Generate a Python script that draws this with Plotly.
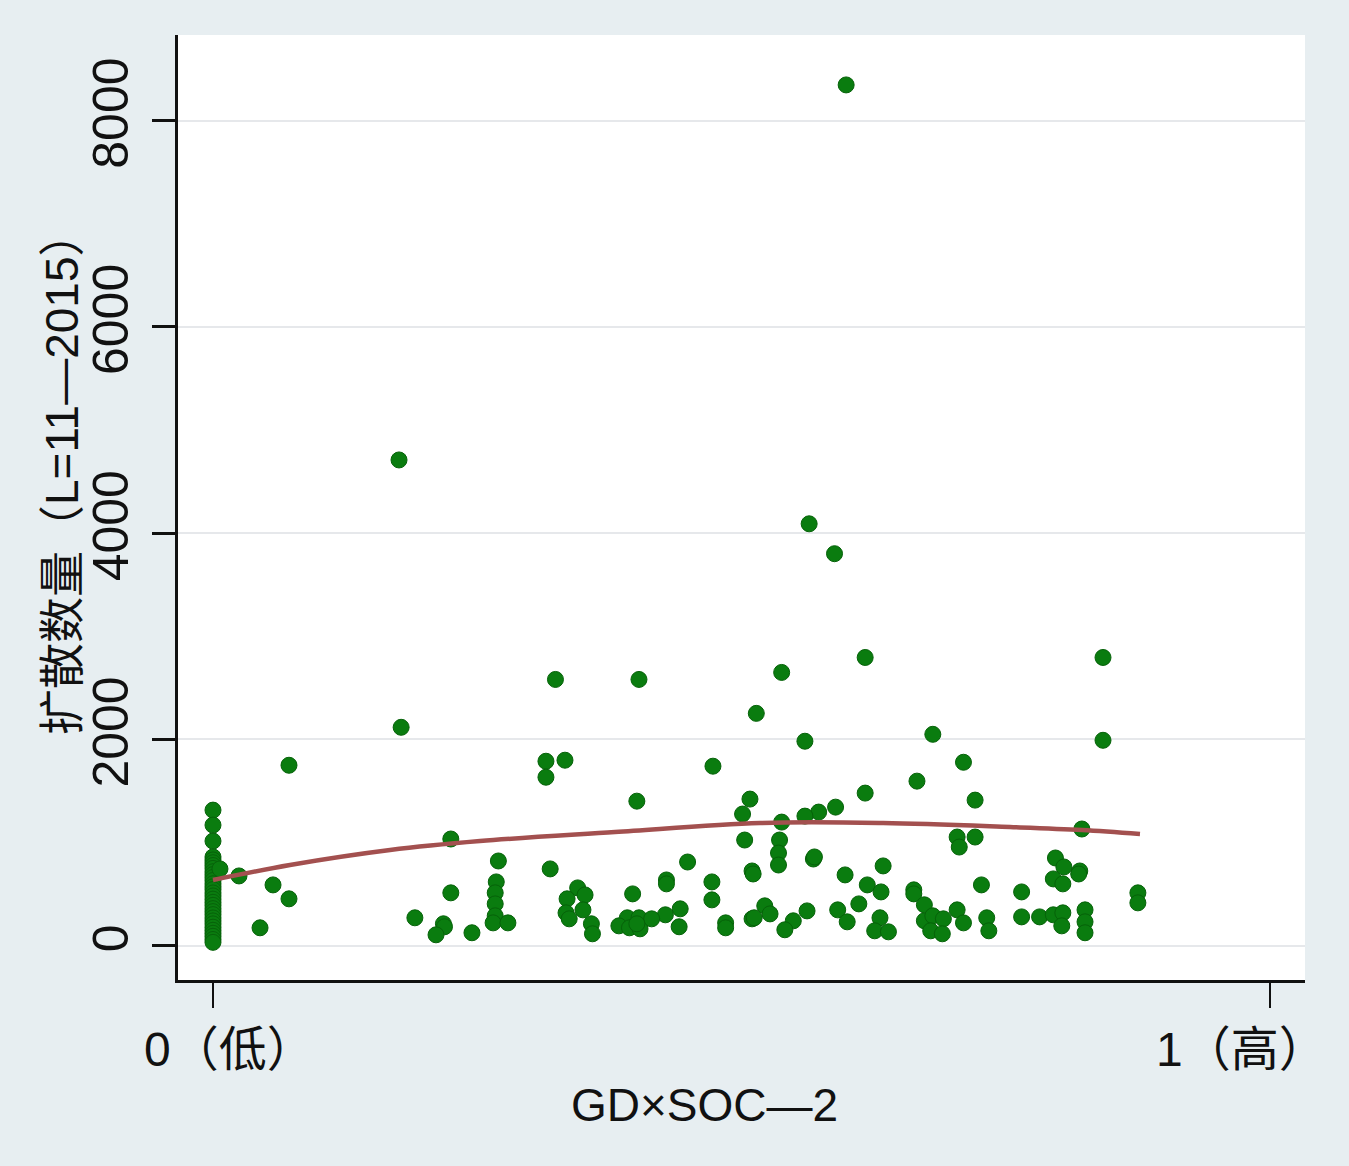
import plotly.graph_objects as go

# ---- data ----
# points stacked at GD×SOC-2 = 0
zero_y = [1315, 1170, 1015, 861, 832, 805, 778, 750, 718, 690, 662, 633, 601, 572,
          545, 512, 483, 452, 421, 392, 360, 331, 302, 270, 241, 212, 180, 150, 121,
          92, 61, 33]

gd_soc = [0.0066, 0.0246, 0.0568, 0.0719, 0.0445, 0.0719, 0.178, 0.176, 0.225, 0.225,
          0.191, 0.218, 0.219, 0.211, 0.245, 0.324, 0.403, 0.514, 0.315, 0.333,
          0.315, 0.473, 0.401, 0.508, 0.501, 0.503, 0.270, 0.319, 0.449, 0.510,
          0.511, 0.268, 0.267, 0.267, 0.267, 0.265, 0.279, 0.345, 0.335, 0.352,
          0.350, 0.334, 0.337, 0.358, 0.359, 0.429, 0.429, 0.397, 0.472, 0.472,
          0.442, 0.428, 0.441, 0.392, 0.384, 0.394, 0.403, 0.404, 0.415, 0.401,
          0.485, 0.485, 0.510, 0.617, 0.538, 0.560, 0.681, 0.710, 0.666, 0.721,
          0.617, 0.589, 0.573, 0.560, 0.538, 0.536, 0.535, 0.535, 0.568, 0.569,
          0.704, 0.706, 0.721, 0.634, 0.598, 0.619, 0.632, 0.727, 0.663, 0.663,
          0.673, 0.704, 0.522, 0.527, 0.512, 0.562, 0.549, 0.541, 0.591, 0.600,
          0.611, 0.631, 0.626, 0.639, 0.673, 0.681, 0.691, 0.679, 0.690, 0.710,
          0.732, 0.734, 0.842, 0.842, 0.822, 0.797, 0.805, 0.820, 0.819, 0.795,
          0.804, 0.765, 0.875, 0.875, 0.765, 0.782, 0.795, 0.804, 0.803, 0.825,
          0.825, 0.825, 0.599, 0.564, 0.588]

diffusion = [745, 677, 590, 455, 174, 1750, 2118, 4710, 1035, 513,
             271, 213, 184, 106, 126, 2582, 2582, 2253, 1789, 1799,
             1634, 1741, 1402, 1422, 1277, 1025, 822, 745, 812, 725,
             696, 619, 513, 406, 290, 222, 222, 561, 455, 493,
             348, 319, 261, 213, 116, 638, 600, 503, 619, 445,
             358, 300, 184, 271, 193, 174, 271, 164, 261, 213,
             222, 174, 261, 2795, 2650, 1983, 2050, 1779, 1596, 1412,
             1480, 1344, 1296, 1257, 1199, 1025, 899, 783, 841, 861,
             1054, 957, 1054, 774, 687, 590, 522, 590, 542, 503,
             397, 348, 387, 309, 271, 338, 242, 155, 348, 232,
             406, 271, 145, 135, 242, 290, 261, 145, 116, 222,
             271, 145, 2795, 1992, 1132, 851, 764, 725, 696, 648,
             600, 522, 513, 416, 280, 280, 300, 319, 193, 348,
             232, 126, 8346, 4091, 3801]

# quadratic fit curve
fit_x = [0.0, 0.0728, 0.1675, 0.2526, 0.3803, 0.5175, 0.6339, 0.7540, 0.8221, 0.8770]
fit_y = [638, 783, 928, 1015, 1102, 1190, 1190, 1151, 1122, 1083]

y_ticks = [0, 2000, 4000, 6000, 8000]
x_ticks = [0, 1]
x_tick_text = ["0（低）", "1（高）"]
x_title = "GD×SOC—2"
y_title = "扩散数量（L=11—2015）"

FONT = "Liberation Sans, Arial, Noto Sans CJK SC, sans-serif"
BG = "#e7eef1"

fig = go.Figure()
fig.add_trace(go.Scatter(
    x=[0] * len(zero_y) + gd_soc, y=zero_y + diffusion, mode="markers",
    marker=dict(size=16, color="#0a7c0f", line=dict(color="#066209", width=1)),
    showlegend=False, hoverinfo="skip"))
fig.add_trace(go.Scatter(
    x=fit_x, y=fit_y, mode="lines", line=dict(color="#a3504f", width=4.5, shape="spline"),
    showlegend=False, hoverinfo="skip"))

fig.update_layout(
    width=1349, height=1166,
    margin=dict(l=178, r=44, t=35, b=186),
    paper_bgcolor=BG, plot_bgcolor="white",
    font=dict(family=FONT, color="#111111"),
    xaxis=dict(range=[-0.0331, 1.0331], tickvals=x_ticks, ticktext=["", ""],
               ticks="outside", ticklen=25, tickwidth=1.5, tickcolor="#111",
               showline=True, linecolor="#111", linewidth=2.5,
               showgrid=False, zeroline=False),
    yaxis=dict(range=[-332, 8830], tickvals=y_ticks,
               ticktext=[str(v) for v in y_ticks], tickangle=-90,
               tickfont=dict(size=50, family=FONT), ticklabelstandoff=4,
               ticks="outside", ticklen=23, tickwidth=2.5, tickcolor="#111",
               showline=True, linecolor="#111", linewidth=2.5,
               showgrid=True, gridcolor="#e6e8eb", gridwidth=1.5, zeroline=False),
    annotations=[
        dict(x=0.016, y=-0.074, xref="x", yref="paper", text=x_tick_text[0],
             showarrow=False, font=dict(size=48, family=FONT), xanchor="center", yanchor="middle"),
        dict(x=0.973, y=-0.074, xref="x", yref="paper", text=x_tick_text[1],
             showarrow=False, font=dict(size=48, family=FONT), xanchor="center", yanchor="middle"),
        dict(x=0.4676, y=-0.1323, xref="paper", yref="paper", text=x_title,
             showarrow=False, font=dict(size=46, family=FONT), xanchor="center", yanchor="middle"),
        dict(x=-0.1029, y=0.5365, xref="paper", yref="paper", text=y_title, textangle=-90,
             showarrow=False, font=dict(size=46, family=FONT), xanchor="center", yanchor="middle"),
    ],
)

fig.write_html("out.html")
